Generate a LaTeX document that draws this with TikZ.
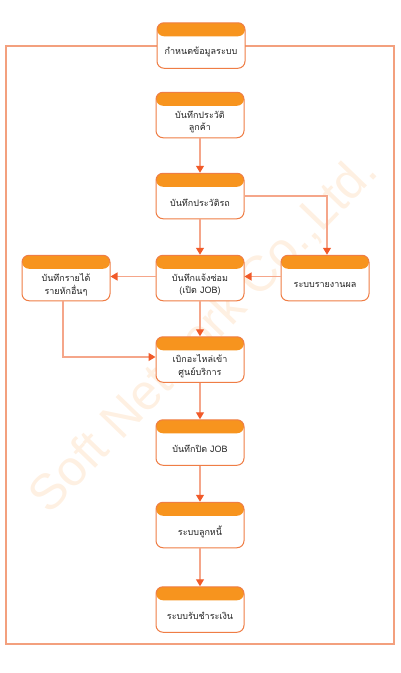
\documentclass[tikz,border=0pt]{standalone}
\usepackage{fontspec}
\newfontfamily\thaifont[Script=Thai]{Loma}
\setmainfont{Liberation Sans}
\usetikzlibrary{arrows.meta}
\definecolor{hdr}{HTML}{F7941E}
\definecolor{bordc}{HTML}{EF7D45}
\definecolor{framec}{HTML}{F3A07E}
\definecolor{lnc}{HTML}{F5A68A}
\definecolor{arrc}{HTML}{F15A29}
\definecolor{wmc}{HTML}{FEF0E2}
\definecolor{txtc}{HTML}{222222}
\tikzset{
  box/.style={draw=bordc, line width=1pt, fill=white, rounded corners=7pt,
    minimum width=88pt, minimum height=45.5pt, inner sep=0pt,
    path picture={\fill[hdr] (path picture bounding box.north west) rectangle ([yshift=-13.5pt]path picture bounding box.north east);}},
  txt/.style={text=txtc, font=\thaifont\fontsize{9}{12.5}\selectfont, align=center, inner sep=0pt},
  conn/.style={draw=lnc, line width=1.2pt, -{Triangle[width=8pt,length=7pt,color=arrc]}},
}
\newcommand{\flowbox}[3]{%
  \node[box] (#1) at (#2) {};
  \node[txt] (#1t) at ([yshift=-6.8pt]#1.center) {#3};
}
\begin{document}
\begin{tikzpicture}[x=1pt,y=-1pt]
\useasboundingbox (0,0) rectangle (400,673);
% watermark
\node[text=wmc, font=\fontsize{50}{50}\selectfont, rotate=46, inner sep=0pt] (wm) at (204,334) {Soft Network Co.,Ltd.};
% frame
\draw[framec, line width=1.3pt] (6,46) rectangle (394,644);
\flowbox{n1}{201,45.5}{กำหนดข้อมูลระบบ}
\flowbox{n2}{200,115}{บันทึกประวัติ\\ลูกค้า}
\flowbox{n3}{200,196}{บันทึกประวัติรถ}
\flowbox{n4}{200,278}{บันทึกแจ้งซ่อม\\(เปิด JOB)}
\flowbox{n5}{66,278}{บันทึกรายได้\\รายหักอื่นๆ}
\flowbox{n6}{325,278}{ระบบรายงานผล}
\flowbox{n7}{200,359.5}{เบิกอะไหล่เข้า\\ศูนย์บริการ}
\flowbox{n8}{200,442.5}{บันทึกปิด JOB}
\flowbox{n9}{200,525}{ระบบลูกหนี้}
\flowbox{n10}{200,609.5}{ระบบรับชำระเงิน}
% connectors
\draw[conn] (n2.south) -- (n3.north);
\draw[conn] (n3.south) -- (n4.north);
\draw[conn] (n3.east) -| ([xshift=2pt]n6.north);
\draw[conn] ([yshift=1.5pt]n6.west) -- ([yshift=1.5pt]n4.east);
\draw[conn] ([yshift=1.5pt]n4.west) -- ([yshift=1.5pt]n5.east);
\draw[conn] ([xshift=-3pt]n5.south) |- ([yshift=2.5pt]n7.west);
\draw[conn] (n4.south) -- (n7.north);
\draw[conn] (n7.south) -- (n8.north);
\draw[conn] (n8.south) -- (n9.north);
\draw[conn] (n9.south) -- (n10.north);
\end{tikzpicture}
\end{document}
